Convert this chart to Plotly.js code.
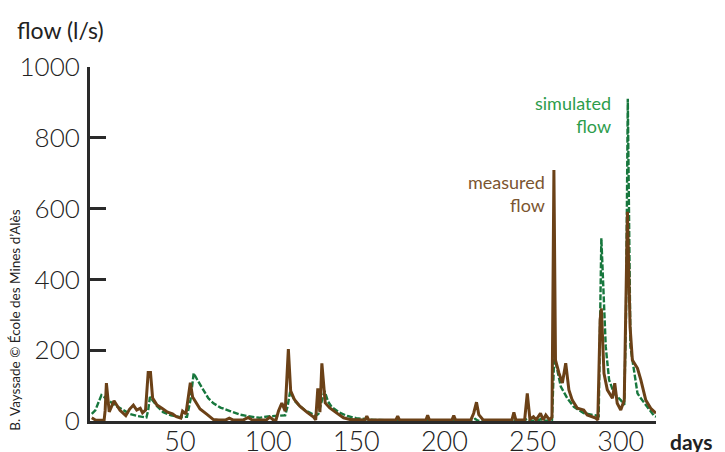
<!DOCTYPE html>
<html>
<head>
<meta charset="utf-8">
<script src="https://cdn.plot.ly/plotly-3.0.1.min.js"></script>
<style>html,body{margin:0;padding:0;background:#fff;}#chart{width:725px;height:452px;}</style>
</head>
<body>
<div id="chart"></div>
<script>
// measured flow (l/s) by day
const measuredDays = [0, 1, 2, 5, 7, 7.6, 8.3, 9.9, 12.6, 16, 19.3, 21.4, 23.6, 25.5, 27.5, 28.8, 30.5, 32, 33.3, 34.5, 37, 40, 43, 45.8, 48, 50.5, 51.5, 53.4, 55.9, 57.2, 59.5, 61.4, 65, 67, 69, 72, 76, 78, 80, 86, 88.7, 91, 99, 101, 103, 104.5, 105.9, 107.8, 109.7, 111.5, 112.8, 115, 118, 122, 125.8, 127, 128.2, 129.4, 130.5, 132.4, 135, 138.8, 142.8, 146.6, 150, 155, 156, 157, 172.5, 173.5, 174.5, 189.5, 190.5, 191.5, 204.3, 205.3, 206.3, 215, 216.6, 218.2, 219.5, 222, 225, 238.3, 239.4, 240.5, 245.5, 247, 248.5, 250.5, 252, 254.5, 256, 257.5, 259.6, 261, 262.1, 263, 265, 266.9, 268.8, 270.6, 272.5, 275.4, 279, 281, 285.8, 287, 288.3, 289, 290.5, 292.4, 295.3, 296.6, 298, 300, 302, 302.8, 303.8, 305.3, 306.6, 309.5, 311.4, 314.2, 317, 320];
const measuredFlow = [9, 6, 3, 2, 2, 30, 107, 26, 57, 30, 15, 33, 45, 31, 36, 23, 31, 137, 137, 65, 45, 35, 25, 20, 12, 8, 28, 20, 108, 68, 51, 34, 20, 11, 4, 3, 3, 8, 3, 3, 10, 3, 3, 11, 3, 3, 28, 51, 28, 203, 85, 60, 42, 25, 11, 3, 92, 25, 163, 51, 37, 23, 9, 4, 3, 3, 14, 3, 3, 14, 3, 3, 16, 3, 3, 15, 3, 3, 22, 53, 18, 3, 3, 3, 24, 3, 3, 78, 5, 12, 3, 22, 3, 17, 3, 11, 709, 172, 135, 107, 163, 88, 59, 36, 31, 17, 8, 3, 285, 318, 135, 88, 64, 107, 50, 31, 59, 266, 591, 266, 172, 149, 116, 59, 36, 22];

// simulated flow (l/s) by day
const simulatedDays = [0, 2, 4, 5.5, 7, 8.5, 10.2, 13, 17.8, 21.6, 26, 31, 32, 33, 35, 37, 40.5, 45, 50, 54, 56, 57.8, 60, 63.3, 66, 69, 73, 78.4, 84, 88, 92, 95, 100, 105, 109.7, 111, 112.5, 115.3, 118, 121, 123.9, 127, 128.5, 130, 132, 134, 136, 140, 145, 150, 155, 160, 170, 200, 216, 217.5, 219, 245, 247, 249, 253, 254.5, 256, 261, 262.3, 263.6, 266, 269.7, 273.4, 279, 284.8, 287.5, 289, 290.2, 291.5, 293.4, 296.2, 300, 302, 303, 304, 305.5, 307.6, 309.5, 311.4, 315.2, 319, 320];
const simulatedFlow = [20, 30, 55, 73, 68, 62, 57, 45, 31, 20, 14, 10, 30, 68, 55, 42, 25, 16, 11, 12, 60, 135, 115, 88, 65, 50, 38, 28, 18, 14, 10, 9, 13, 14, 16, 40, 83, 56, 42, 30, 22, 15, 20, 50, 85, 55, 40, 25, 14, 8, 5, 3, 2, 1, 1, 6, 1, 1, 6, 1, 1, 5, 1, 1, 185, 154, 97, 64, 40, 22, 17, 14, 516, 361, 210, 116, 78, 59, 45, 300, 910, 210, 135, 78, 64, 40, 14, 12];

const yTicks = [0, 200, 400, 600, 800, 1000];
const xTicks = [50, 100, 150, 200, 250, 300];

const font = "Lato, 'Open Sans', sans-serif";

const traces = [
  {x: simulatedDays, y: simulatedFlow, type: 'scatter', mode: 'lines',
   line: {color: '#17773d', width: 2.4, dash: '6px,2px'}, hoverinfo: 'skip'},
  {x: measuredDays, y: measuredFlow, type: 'scatter', mode: 'lines',
   line: {color: '#6b4117', width: 3}, hoverinfo: 'skip'}
];

const layout = {
  width: 725, height: 452,
  margin: {l: 90, r: 69, t: 67, b: 31},
  paper_bgcolor: '#fff', plot_bgcolor: '#fff',
  showlegend: false,
  xaxis: {range: [-1, 320], showgrid: false, zeroline: false,
          showline: true, linewidth: 3, linecolor: '#2a2a2a',
          ticks: '', tickvals: xTicks, ticktext: xTicks.map(String), ticklabelstandoff: -5,
          tickfont: {family: font, size: 27, color: '#222', weight: 300}},
  yaxis: {range: [0, 1000], showgrid: false, zeroline: false,
          showline: true, linewidth: 3, linecolor: '#2a2a2a',
          ticks: 'inside', ticklen: 16, tickwidth: 3, tickcolor: '#2a2a2a',
          tickvals: yTicks, ticktext: yTicks.map(String), ticklabelstandoff: 2,
          tickfont: {family: font, size: 26, color: '#222', weight: 300}},
  annotations: [
    {xref: 'paper', yref: 'paper', x: -0.1325, y: 1.1045, xanchor: 'left', yanchor: 'middle',
     text: 'flow (l/s)', showarrow: false, font: {family: font, size: 23, color: '#222', weight: 400}},
    {xref: 'paper', yref: 'paper', x: 1.021, y: -0.058, xanchor: 'left', yanchor: 'middle',
     text: 'days', showarrow: false, font: {family: font, size: 21, color: '#222', weight: 700}},
    {xref: 'paper', yref: 'paper', x: -0.1325, y: 0.283, xanchor: 'center', yanchor: 'middle',
     textangle: -90, text: 'B. Vayssade © École des Mines d\u2019Alès', showarrow: false,
     font: {family: font, size: 13.5, color: '#222'}},
    {xref: 'x', yref: 'y', x: 258.2, y: 644, xanchor: 'right', yanchor: 'middle', align: 'right',
     text: 'measured<br>flow', showarrow: false, font: {family: font, size: 18, color: '#7b5530'}},
    {xref: 'x', yref: 'y', x: 295.7, y: 867, xanchor: 'right', yanchor: 'middle', align: 'right',
     text: 'simulated<br>flow', showarrow: false, font: {family: font, size: 18, color: '#2d9d4c'}}
  ]
};

Plotly.newPlot('chart', traces, layout, {staticPlot: true, displayModeBar: false});
</script>
</body>
</html>
